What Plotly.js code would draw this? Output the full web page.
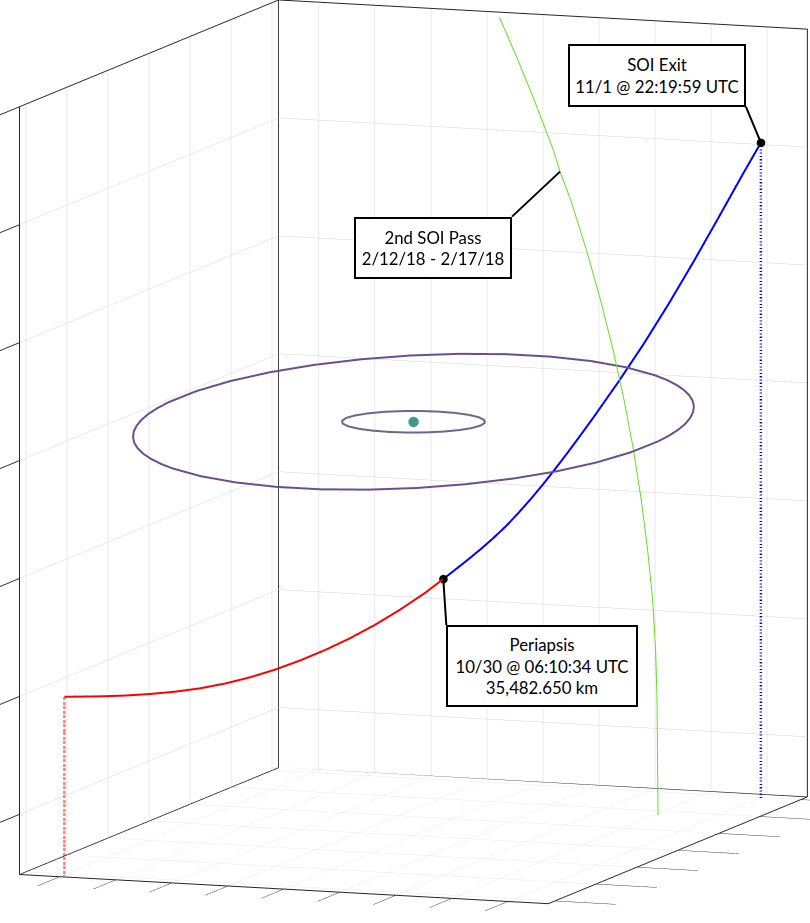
<!DOCTYPE html>
<html>
<head>
<meta charset="utf-8">
<script src="https://cdn.plot.ly/plotly-3.0.1.min.js"></script>
<style>html,body{margin:0;padding:0;background:#fff;}#chart{width:810px;height:923px;}</style>
</head>
<body>
<div id="chart"></div>
<script>
// ---- axis limits and ticks (data units, planet-centred frame) ----
const xRange = [-23.6, 23.6];
const yRange = [-31.6, 31.6];
const zRange = [-35.1, 30];
const xTicks = [-20, -15, -10, -5, 0, 5, 10, 15, 20];
const yTicks = [-30, -20, -10, 0, 10, 20, 30];
const zTicks = [-30, -20, -10, 0, 10, 20, 30];

// ---- inbound leg (SOI entry -> periapsis), red ----
const inX = [-19.66, -18.15, -17.08, -16.00, -14.90, -13.77, -12.63, -11.45, -10.24, -9.01, -7.75, -6.46, -5.14, -3.79, -2.41, -1.36];
const inY = [-31.42, -26.85, -23.68, -20.55, -17.46, -14.42, -11.46, -8.59, -5.78, -3.05, -0.40, 2.18, 4.67, 7.08, 9.39, 11.00];
const inZ = [-19.85, -20.39, -20.72, -20.98, -21.17, -21.26, -21.22, -21.04, -20.73, -20.28, -19.71, -19.01, -18.16, -17.15, -15.99, -14.98];

// ---- outbound leg (periapsis -> SOI exit), blue ----
const outX = [-1.36, -0.64, 0.08, 0.81, 1.55, 2.31, 3.09, 3.90, 4.72, 5.56, 6.41, 7.26, 8.13, 9.88, 11.67, 13.51, 15.40, 17.32, 19.24, 20.59];
const outY = [11.00, 12.09, 13.16, 14.22, 15.24, 16.21, 17.12, 17.96, 18.77, 19.53, 20.26, 20.97, 21.65, 22.95, 24.16, 25.23, 26.18, 27.03, 27.86, 28.48];
const outZ = [-14.98, -14.27, -13.55, -12.79, -11.97, -11.07, -10.04, -8.92, -7.72, -6.44, -5.11, -3.74, -2.33, 0.59, 3.69, 7.03, 10.59, 14.31, 18.07, 20.66];

// ---- second SOI pass, green ----
const passX = [-2.94, -0.88, 1.08, 3.28, 4.04, 5.28, 7.08, 8.70, 10.14, 11.40, 12.49, 13.38, 14.11, 14.69, 15.03, 15.19, 15.30];
const passY = [28.96, 27.71, 26.51, 25.17, 24.71, 23.95, 22.85, 21.86, 20.99, 20.22, 19.55, 19.01, 18.56, 18.21, 18.00, 17.91, 17.84];
const passZ = [30.04, 26.81, 23.54, 19.61, 17.88, 15.65, 11.66, 7.65, 3.61, -0.45, -4.54, -8.66, -12.79, -16.95, -21.14, -25.36, -35.10];
const passLabelIndex = 4;

// ---- outer orbit (purple) ----
const outerX = [22.01, 22.65, 23.12, 23.42, 23.54, 23.47, 23.23, 22.22, 20.54, 18.23, 15.37, 12.04, 8.34, 4.40, 0.31, -3.78, -7.76, -11.50,
  -14.89, -16.42, -17.83, -19.10, -20.23, -21.20, -22.01, -22.65, -23.12, -23.42, -23.54, -23.47, -23.23, -22.22, -20.54, -18.23, -15.37,
  -12.04, -8.34, -4.40, -0.31, 3.78, 7.76, 11.50, 14.89, 16.42, 17.83, 19.10, 20.23, 21.20, 22.01];
const outerY = [8.26, 6.32, 4.33, 2.31, 0.27, -1.77, -3.80, -7.76, -11.47, -14.84, -17.76, -20.14, -21.91, -23.01, -23.41, -23.10, -22.09, -20.41,
  -18.11, -16.75, -15.26, -13.65, -11.94, -10.14, -8.26, -6.32, -4.33, -2.31, -0.27, 1.77, 3.80, 7.76, 11.47, 14.84, 17.76,
  20.14, 21.91, 23.01, 23.41, 23.10, 22.09, 20.41, 18.11, 16.75, 15.26, 13.65, 11.94, 10.14, 8.26];
const outerZ = [1.29, 1.11, 0.92, 0.72, 0.52, 0.31, 0.10, -0.32, -0.73, -1.12, -1.47, -1.78, -2.04, -2.23, -2.36, -2.41, -2.39, -2.30,
  -2.14, -2.03, -1.91, -1.77, -1.62, -1.46, -1.29, -1.11, -0.92, -0.72, -0.52, -0.31, -0.10, 0.32, 0.73, 1.12, 1.47,
  1.78, 2.04, 2.23, 2.36, 2.41, 2.39, 2.30, 2.14, 2.03, 1.91, 1.77, 1.62, 1.46, 1.29];

// ---- inner orbit (slate) ----
const innerX = [6.02, 5.81, 5.21, 4.26, 3.01, 1.56, 0, -1.56, -3.01, -4.26, -5.21, -5.81, -6.02, -5.81, -5.21, -4.26, -3.01, -1.56, 0, 1.56, 3.01, 4.26, 5.21, 5.81, 6.02];
const innerY = [0, 1.56, 3.01, 4.26, 5.21, 5.81, 6.02, 5.81, 5.21, 4.26, 3.01, 1.56, 0, -1.56, -3.01, -4.26, -5.21, -5.81, -6.02, -5.81, -5.21, -4.26, -3.01, -1.56, 0];
const innerZ = [0, 0, 0, 0, 0, 0, 0, 0, 0, 0, 0, 0, 0, 0, 0, 0, 0, 0, 0, 0, 0, 0, 0, 0, 0];

// ---- planet ----
const planet = [0, 0, 0];

// ---- labels ----
const labelPeri = 'Periapsis<br>10/30 @ 06:10:34 UTC<br>35,482.650 km';
const labelExit = 'SOI Exit<br>11/1 @ 22:19:59 UTC';
const labelPass = '2nd SOI Pass<br>2/12/18 - 2/17/18';

// ---------------------------------------------------------------
const last = a => a[a.length - 1];
const [x0, x1] = xRange, [y0, y1] = yRange, [z0, z1] = zRange;
const traces = [
  // back edges of the axes box (floor-left, floor-back, back vertical), from the axis limits
  {type:'scatter3d', mode:'lines', x:[x0, x0, x1, null, x0, x0], y:[y0, y1, y1, null, y1, y1], z:[z0, z0, z0, null, z0, z1],
   line:{color:'#262626', width:1.6}, connectgaps:false, hoverinfo:'skip'},
  {type:'scatter3d', mode:'lines', x:outerX, y:outerY, z:outerZ, line:{color:'#6b4f8c', width:4}, hoverinfo:'skip'},
  {type:'scatter3d', mode:'lines', x:innerX, y:innerY, z:innerZ, line:{color:'#636b88', width:4}, hoverinfo:'skip'},
  {type:'scatter3d', mode:'markers', x:[planet[0]], y:[planet[1]], z:[planet[2]], marker:{color:'#3d9a8b', size:6, line:{width:0}}, hoverinfo:'skip'},
  {type:'scatter3d', mode:'lines', x:passX, y:passY, z:passZ, line:{color:'#66dd22', width:2}, hoverinfo:'skip'},
  {type:'scatter3d', mode:'lines', x:inX, y:inY, z:inZ, line:{color:'#ff0000', width:4}, hoverinfo:'skip'},
  {type:'scatter3d', mode:'lines', x:outX, y:outY, z:outZ, line:{color:'#0000ff', width:4}, hoverinfo:'skip'},
  {type:'scatter3d', mode:'lines', x:[inX[0], inX[0]], y:[inY[0], inY[0]], z:[inZ[0], z0], line:{color:'#ff0000', width:5, dash:'dot'}, hoverinfo:'skip'},
  {type:'scatter3d', mode:'lines', x:[last(outX), last(outX)], y:[last(outY), last(outY)], z:[last(outZ), z0], line:{color:'#0000ff', width:5, dash:'dot'}, hoverinfo:'skip'},
  {type:'scatter3d', mode:'markers', x:[last(inX), last(outX)], y:[last(inY), last(outY)], z:[last(inZ), last(outZ)], marker:{color:'#000000', size:5, line:{width:0}}, hoverinfo:'skip'}
];

const axisBase = {
  showticklabels:false, ticks:'outside', ticklen:110, tickcolor:'#2b2b2b', tickwidth:2,
  showgrid:true, gridcolor:'#d4d4d4', gridwidth:1,
  showline:true, linecolor:'#262626', linewidth:2, mirror:true,
  zeroline:false, showbackground:false, showspikes:false,
  title:{text:''}, autorange:false
};

const annBase = {showarrow:true, arrowhead:0, arrowwidth:2, arrowcolor:'#000000',
  bordercolor:'#000000', borderwidth:2, borderpad:0, bgcolor:'#ffffff',
  font:{family:'Lato, "Open Sans", sans-serif', size:16.8, color:'#000000'}, align:'center'};

// orthographic view: direction from box centre to camera, and zoom (scene units per data unit)
const viewDir = {x:0.3397, y:-0.9283, z:0.1508};
const zoom = 0.02585;
const target = {x:-0.01594, y:-0.00966, z:-0.02066};
const layout = {
  width:810, height:923,
  margin:{l:0, r:0, t:0, b:0},
  paper_bgcolor:'#ffffff',
  showlegend:false,
  hovermode:false,
  scene:{
    domain:{x:[0,1], y:[0,1]},
    aspectmode:'manual',
    aspectratio:{x:(x1-x0)*zoom, y:(y1-y0)*zoom, z:(z1-z0)*zoom},
    camera:{projection:{type:'orthographic'}, up:{x:0,y:0,z:1},
            center:target,
            eye:{x:target.x + viewDir.x*2, y:target.y + viewDir.y*2, z:target.z + viewDir.z*2}},
    xaxis:Object.assign({}, axisBase, {range:xRange, tickvals:xTicks, ticklen:65}),
    yaxis:Object.assign({}, axisBase, {range:yRange, tickvals:yTicks, ticklen:65}),
    zaxis:Object.assign({}, axisBase, {range:zRange, tickvals:zTicks}),
    annotations:[
      Object.assign({}, annBase, {x:last(outX), y:last(outY), z:last(outZ), text:labelExit, ax:-15, ay:-36, xanchor:'right', yanchor:'bottom', width:174, height:59}),
      Object.assign({}, annBase, {x:passX[passLabelIndex], y:passY[passLabelIndex], z:passZ[passLabelIndex], text:labelPass, ax:-48, ay:45, xanchor:'right', yanchor:'top', width:154, height:58}),
      Object.assign({}, annBase, {x:last(inX), y:last(inY), z:last(inZ), text:labelPeri, ax:3, ay:46, xanchor:'left', yanchor:'top', width:188, height:78})
    ]
  }
};

Plotly.newPlot('chart', traces, layout, {displayModeBar:false});
</script>
</body>
</html>
